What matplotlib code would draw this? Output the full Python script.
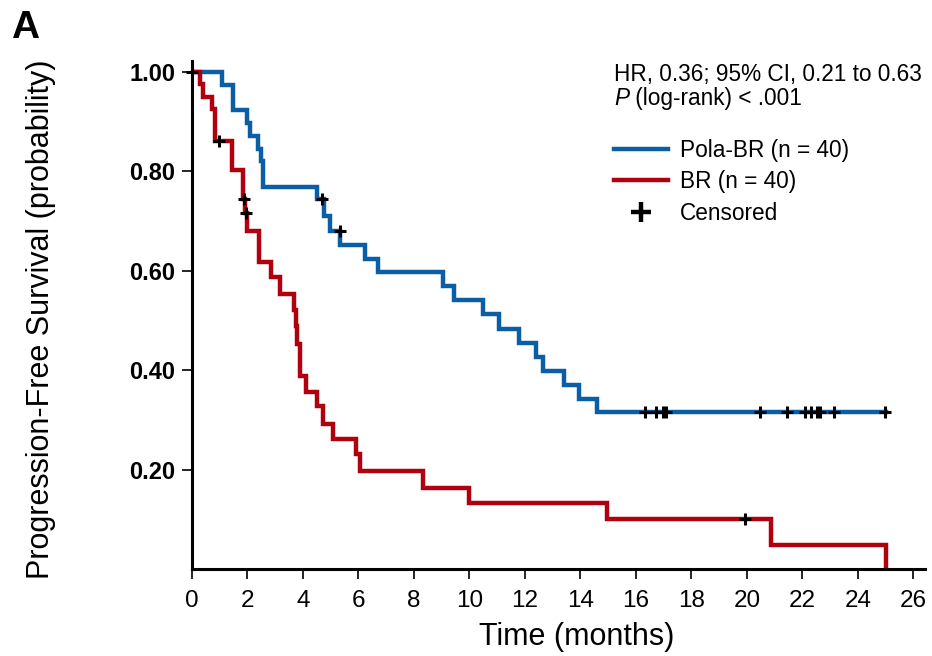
import matplotlib
matplotlib.use('Agg')
import matplotlib.pyplot as plt
from matplotlib.lines import Line2D

# Kaplan-Meier step points (months, survival probability)
pola_t = [0, 1.07, 1.49, 1.97, 2.09, 2.37, 2.48, 2.55, 4.50, 4.75, 4.96, 5.35, 6.25,
          6.72, 9.05, 9.46, 10.48, 11.08, 11.77, 12.40, 12.64, 13.42, 13.96, 14.58, 25.0]
pola_s = [1.0, 0.974, 0.923, 0.897, 0.872, 0.846, 0.820, 0.769, 0.744, 0.710, 0.680,
          0.652, 0.624, 0.598, 0.569, 0.541, 0.514, 0.482, 0.454, 0.427, 0.399, 0.371,
          0.342, 0.315, 0.315]

br_t = [0, 0.29, 0.38, 0.71, 0.83, 1.43, 1.85, 1.92, 1.98, 2.41, 2.83, 3.17, 3.68, 3.74,
        3.80, 3.88, 4.12, 4.52, 4.72, 5.08, 5.92, 6.04, 8.32, 9.97, 14.95, 20.85, 25.0]
br_s = [1.0, 0.975, 0.95, 0.925, 0.862, 0.803, 0.745, 0.717, 0.681, 0.617, 0.588, 0.553,
        0.521, 0.489, 0.453, 0.389, 0.357, 0.327, 0.292, 0.262, 0.232, 0.198, 0.163,
        0.132, 0.101, 0.049, 0.0]

# censored observations
pola_cens_t = [0.0, 4.67, 5.32, 16.33, 16.74, 16.99, 17.10, 20.46, 21.45, 22.08, 22.32,
               22.53, 22.65, 23.13, 24.96]
pola_cens_s = [1.0, 0.744, 0.680, 0.315, 0.315, 0.315, 0.315, 0.315, 0.315, 0.315, 0.315,
               0.315, 0.315, 0.315, 0.315]
br_cens_t = [0.96, 1.88, 1.95, 19.92]
br_cens_s = [0.862, 0.745, 0.717, 0.101]

xticks = list(range(0, 27, 2))
yticks = [0.20, 0.40, 0.60, 0.80, 1.00]

blue = '#0a5ea6'
red = '#b0000f'

plt.rcParams['font.family'] = ['Liberation Sans', 'DejaVu Sans']

fig = plt.figure(figsize=(9.32, 6.56), dpi=100)
ax = fig.add_axes([0.206, 0.1326, 0.786, 0.774])

ax.step(pola_t, pola_s, where='post', color=blue, lw=3.2, solid_joinstyle='miter')
ax.step(br_t, br_s, where='post', color=red, lw=3.2, solid_joinstyle='miter')
ax.plot(pola_cens_t, pola_cens_s, ls='none', marker='+', color='black', ms=9, mew=2.2,
        clip_on=False, zorder=5)
ax.plot(br_cens_t, br_cens_s, ls='none', marker='+', color='black', ms=9, mew=2.2,
        clip_on=False, zorder=5)

ax.set_xlim(0, 26.4)
ax.set_ylim(0, 1.0215)
ax.set_xticks(xticks)
ax.set_yticks(yticks)
ax.set_xticklabels([str(v) for v in xticks], fontsize=17.5)
ax.set_yticklabels(['%.2f' % v for v in yticks], fontsize=17, fontweight='bold')

for s in ['top', 'right']:
    ax.spines[s].set_visible(False)
for s in ['left', 'bottom']:
    ax.spines[s].set_linewidth(2.2)
ax.tick_params(axis='both', direction='out', length=7, width=1.2, pad=5)
ax.tick_params(axis='x', pad=8)

ax.set_xlabel('Time (months)', fontsize=22)
ax.set_ylabel('Progression-Free Survival (probability)', fontsize=22)
ax.xaxis.set_label_coords(0.525, -0.105)
ax.yaxis.set_label_coords(-0.185, 0.492)

fig.text(0.012, 0.985, 'A', fontsize=28, fontweight='bold', va='top', ha='left')

hr = ax.text(0.576, 0.974, 'HR, 0.36; 95% CI, 0.21 to 0.63', transform=ax.transAxes,
             fontsize=16.3, va='center', ha='left')
p = ax.text(0.576, 0.927, 'P', transform=ax.transAxes, fontsize=16.3,
            style='italic', va='center', ha='left')
ax.annotate(' (log-rank) < .001', xy=(1, 0.5), xycoords=p, fontsize=16.3,
            va='center', ha='left')

handles = [Line2D([], [], color=blue, lw=3.2),
           Line2D([], [], color=red, lw=3.2),
           Line2D([], [], ls='none', marker='+', color='black', ms=14, mew=3.2)]
labels = ['Pola-BR (n = 40)', 'BR (n = 40)', 'Censored']
ax.legend(handles, labels, loc='upper left', bbox_to_anchor=(0.576, 0.847),
          frameon=False, fontsize=16.3, handlelength=2.37, handletextpad=0.53,
          labelspacing=0.37, borderpad=0, borderaxespad=0)

fig.savefig('out.png', dpi=100)
